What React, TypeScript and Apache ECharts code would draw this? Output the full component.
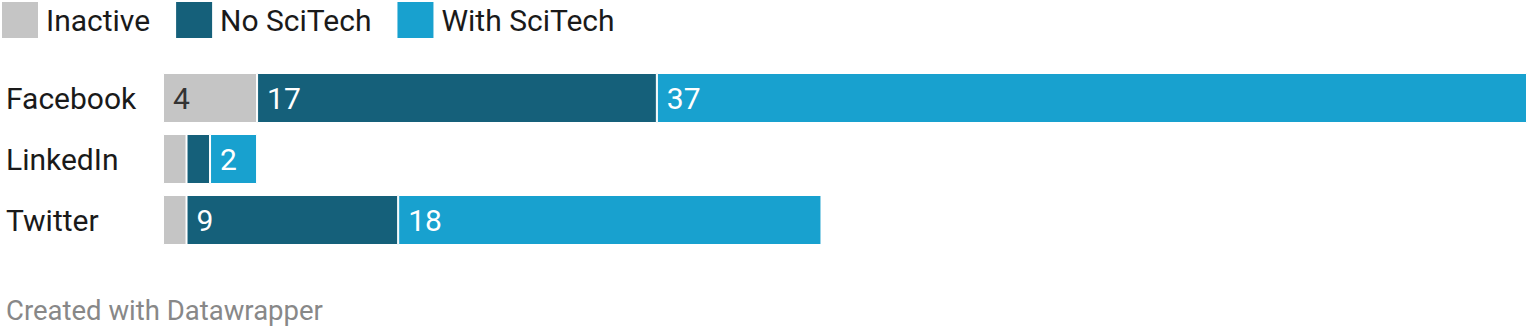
import React, { useEffect, useRef } from "react";
import * as echarts from "echarts";

const categories = ["Facebook", "LinkedIn", "Twitter"];
const inactive = [4, 1, 1];
const noSciTech = [17, 1, 9];
const withSciTech = [37, 2, 18];
const seriesNames = ["Inactive", "No SciTech", "With SciTech"];
const colors = ["#c5c5c5", "#15607a", "#18a1cf"];
const labelColors = ["#333333", "#ffffff", "#ffffff"];

export default function App() {
  const ref = useRef<HTMLDivElement>(null);
  useEffect(() => {
    if (!ref.current) return;
    const chart = echarts.init(ref.current, undefined, { renderer: "svg" });
    const datasets = [inactive, noSciTech, withSciTech];
    chart.setOption({
      animation: false,
      textStyle: { fontFamily: "Roboto" },
      legend: {
        left: 2,
        top: 2,
        padding: 0,
        itemWidth: 36,
        itemHeight: 36,
        itemGap: 26,
        icon: "rect",
        itemStyle: { borderWidth: 0 },
        textStyle: { fontSize: 30, color: "#1a1a1a", fontFamily: "Roboto", padding: [0, 0, 0, 3] },
        data: seriesNames,
      },
      grid: { left: 163, right: 8, top: 67.5, height: 183 },
      xAxis: {
        type: "value",
        min: 0,
        max: 58,
        show: false,
      },
      yAxis: {
        type: "category",
        data: categories,
        inverse: true,
        axisLine: { show: false },
        axisTick: { show: false },
        axisLabel: {
          align: "left",
          margin: 157,
          fontSize: 30,
          color: "#1a1a1a",
          fontFamily: "Roboto",
        },
      },
      series: datasets.map((d, i) => ({
        name: seriesNames[i],
        type: "bar",
        stack: "total",
        barWidth: 50,
        data: d,
        itemStyle: { color: colors[i], borderColor: "#ffffff", borderWidth: 1 },
        label: {
          show: true,
          position: "insideLeft",
          distance: 10,
          fontSize: 30,
          color: labelColors[i],
          fontFamily: "Roboto",
          formatter: (p: any) => (p.value >= 2 ? String(p.value) : ""),
        },
      })),
      graphic: [
        {
          type: "text",
          left: 6,
          top: 296,
          style: { text: "Created with Datawrapper", fontSize: 27.5, fill: "#888888", fontFamily: "Roboto" },
        },
      ],
    });
    return () => chart.dispose();
  }, []);
  return (
    <div
      ref={ref}
      style={{ position: "fixed", left: 0, top: 0, width: 1535, height: 331, background: "#ffffff" }}
    />
  );
}
